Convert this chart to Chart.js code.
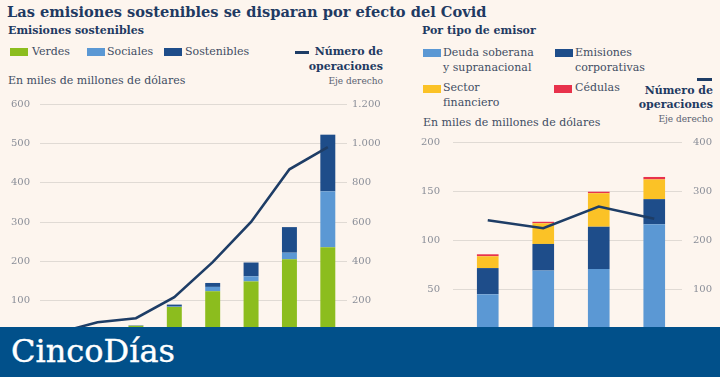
<!DOCTYPE html>
<html lang="es">
<head>
<meta charset="utf-8">
<script src="https://cdn.jsdelivr.net/npm/chart.js@4/dist/chart.umd.min.js"></script>
<style>
  html, body { margin:0; padding:0; }
  body { width:720px; height:377px; overflow:hidden; background:#fdf5ee; position:relative; font-family:"DejaVu Serif", serif; }
  .t { position:absolute; white-space:nowrap; }
  .title { left:7px; top:2px; font-size:14.6px; font-weight:bold; color:#1f3a62; line-height:20px; }
  .sub { font-size:11px; font-weight:bold; color:#1f3a62; line-height:14px; }
  .leg { font-size:11px; color:#3f4d63; line-height:14px; }
  .legb { font-size:11px; font-weight:bold; color:#1f3a62; line-height:14px; text-align:right; }
  .small { font-size:9px; color:#5a6270; line-height:12px; text-align:right; }
  .sw { position:absolute; width:18px; height:8px; }
  .dash { position:absolute; height:3px; background:#1e3d66; }
  canvas { position:absolute; }
  #banner { position:absolute; left:0; top:327px; width:720px; height:50px; background:#01508a; z-index:5; }
  #banner span { position:absolute; left:11px; top:4px; font-family:"DejaVu Serif", serif; font-size:32px; color:#fff; line-height:40px; -webkit-text-stroke:0.4px #fff; }
</style>
</head>
<body>
<div class="t title">Las emisiones sostenibles se disparan por efecto del Covid</div>

<!-- left header -->
<div class="t sub" style="left:8px; top:24px;">Emisiones sostenibles</div>
<div class="sw" style="left:10px; top:48px; background:#8cbd1e;"></div>
<div class="t leg" style="left:32px; top:45px;">Verdes</div>
<div class="sw" style="left:87px; top:48px; background:#5b98d4;"></div>
<div class="t leg" style="left:107px; top:45px;">Sociales</div>
<div class="sw" style="left:164px; top:48px; background:#1e4d8a;"></div>
<div class="t leg" style="left:185px; top:45px;">Sostenibles</div>
<div class="dash" style="left:295px; top:51px; width:14px;"></div>
<div class="t legb" style="right:337px; top:45px;">Número de</div>
<div class="t legb" style="right:337px; top:60px;">operaciones</div>
<div class="t small" style="right:337px; top:75px;">Eje derecho</div>
<div class="t leg" style="left:8px; top:74px;">En miles de millones de dólares</div>

<!-- right header -->
<div class="t sub" style="left:422px; top:24px;">Por tipo de emisor</div>
<div class="sw" style="left:423px; top:49px; background:#5b98d4;"></div>
<div class="t leg" style="left:443px; top:46px;">Deuda soberana</div>
<div class="t leg" style="left:443px; top:61px;">y supranacional</div>
<div class="sw" style="left:555px; top:49px; background:#1e4d8a;"></div>
<div class="t leg" style="left:575px; top:46px;">Emisiones</div>
<div class="t leg" style="left:575px; top:61px;">corporativas</div>
<div class="sw" style="left:423px; top:85px; background:#fbc226;"></div>
<div class="t leg" style="left:443px; top:81px;">Sector</div>
<div class="t leg" style="left:443px; top:96px;">financiero</div>
<div class="sw" style="left:554px; top:85px; background:#e8324b;"></div>
<div class="t leg" style="left:575px; top:81px;">Cédulas</div>
<div class="dash" style="left:697px; top:78px; width:15px;"></div>
<div class="t legb" style="right:7px; top:84px;">Número de</div>
<div class="t legb" style="right:7px; top:98px;">operaciones</div>
<div class="t small" style="right:7px; top:113px;">Eje derecho</div>
<div class="t leg" style="left:423px; top:116px;">En miles de millones de dólares</div>

<canvas id="c1" width="400" height="268" style="left:0; top:88px; width:400px; height:268px;"></canvas>
<canvas id="c2" width="320" height="235" style="left:400px; top:123px; width:320px; height:235px;"></canvas>

<div id="banner"><span>CincoDías</span></div>

<script>
// ---- Data: left chart (emisiones sostenibles, miles de millones de dólares) ----
const years = ['2013','2014','2015','2016','2017','2018','2019','2020'];
const verdes = [11, 27, 36, 84, 124, 149, 205, 236];
const sociales = [0, 0, 0, 1, 11, 13, 17, 142];
const sostenibles = [0, 1, 1, 5, 10, 35, 65, 144];
const operaciones = [38, 90, 111, 218, 396, 600, 868, 981];
const leftTicks = [0, 100, 200, 300, 400, 500, 600];
const rightTicks = [0, 200, 400, 600, 800, 1000, 1200];

// ---- Data: right chart (por tipo de emisor, 2020 por trimestres) ----
const trimestres = ['1T','2T','3T','4T'];
const soberana = [45.5, 69.5, 71, 116.5];
const corporativas = [26.5, 27, 43, 25.5];
const financiero = [12, 21, 34, 20];
const cedulas = [2, 1.5, 1.5, 2.5];
const operacionesT = [241, 225, 269, 244];
const leftTicks2 = [0, 50, 100, 150, 200];
const rightTicks2 = [0, 100, 200, 300, 400];

const C = { green:'#8cbd1e', light:'#5b98d4', dark:'#1e4d8a', yellow:'#fbc226', red:'#e8324b', line:'#1e3d66', grid:'#e0dad4', tick:'#8a8e98' };
const fmt = v => v >= 1000 ? Math.floor(v/1000) + '.' + String(v%1000).padStart(3,'0') : String(v);
const tickFont = { family:'DejaVu Serif', size:10 };

function barDs(label, data, color) {
  return { type:'bar', label, data, backgroundColor:color, borderWidth:0, yAxisID:'y', order:2,
           categoryPercentage:1, barPercentage:0.39, stack:'s' };
}
function lineDs(label, data) {
  return { type:'line', label, data, borderColor:C.line, borderWidth:2.6, pointRadius:0, tension:0,
           yAxisID:'y1', order:0, fill:false };
}

Chart.defaults.animation = false;
Chart.defaults.responsive = false;

new Chart(document.getElementById('c1'), {
  data: { labels: years, datasets: [
    barDs('Verdes', verdes, C.green),
    barDs('Sociales', sociales, C.light),
    barDs('Sostenibles', sostenibles, C.dark),
    lineDs('Número de operaciones', operaciones)
  ]},
  options: {
    layout: { padding: 0 },
    plugins: { legend:{display:false}, tooltip:{enabled:false} },
    scales: {
      x: { display:false, stacked:true, offset:true },
      y: { stacked:true, min:0, max:600,
           afterBuildTicks: s => { s.ticks = leftTicks.map(v => ({value:v})); },
           afterFit: s => { s.width = 40; },
           grid: { color:C.grid, drawTicks:false, lineWidth:1 }, border:{display:false},
           ticks: { padding:10, color:C.tick, font:tickFont, callback: v => fmt(v) } },
      y1: { position:'right', min:0, max:1200, stacked:false,
           afterBuildTicks: s => { s.ticks = rightTicks.map(v => ({value:v})); },
           afterFit: s => { s.width = 53; },
           grid: { drawOnChartArea:false, drawTicks:false }, border:{display:false},
           ticks: { padding:5, color:C.tick, font:tickFont, callback: v => fmt(v) } }
    }
  }
});

new Chart(document.getElementById('c2'), {
  data: { labels: trimestres, datasets: [
    barDs('Deuda soberana y supranacional', soberana, C.light),
    barDs('Emisiones corporativas', corporativas, C.dark),
    barDs('Sector financiero', financiero, C.yellow),
    barDs('Cédulas', cedulas, C.red),
    lineDs('Número de operaciones', operacionesT)
  ]},
  options: {
    layout: { padding: 0 },
    plugins: { legend:{display:false}, tooltip:{enabled:false} },
    scales: {
      x: { display:false, stacked:true, offset:true },
      y: { stacked:true, min:0, max:200,
           afterBuildTicks: s => { s.ticks = leftTicks2.map(v => ({value:v})); },
           afterFit: s => { s.width = 60; },
           grid: { color:C.grid, drawTicks:true, tickLength:7, lineWidth:1 }, border:{display:false},
           ticks: { padding:13, color:C.tick, font:tickFont, callback: v => fmt(v) } },
      y1: { position:'right', min:0, max:400, stacked:false,
           afterBuildTicks: s => { s.ticks = rightTicks2.map(v => ({value:v})); },
           afterFit: s => { s.width = 38; },
           grid: { drawOnChartArea:false, drawTicks:false }, border:{display:false},
           ticks: { padding:11, color:C.tick, font:tickFont, callback: v => fmt(v) } }
    }
  }
});
</script>
</body>
</html>
